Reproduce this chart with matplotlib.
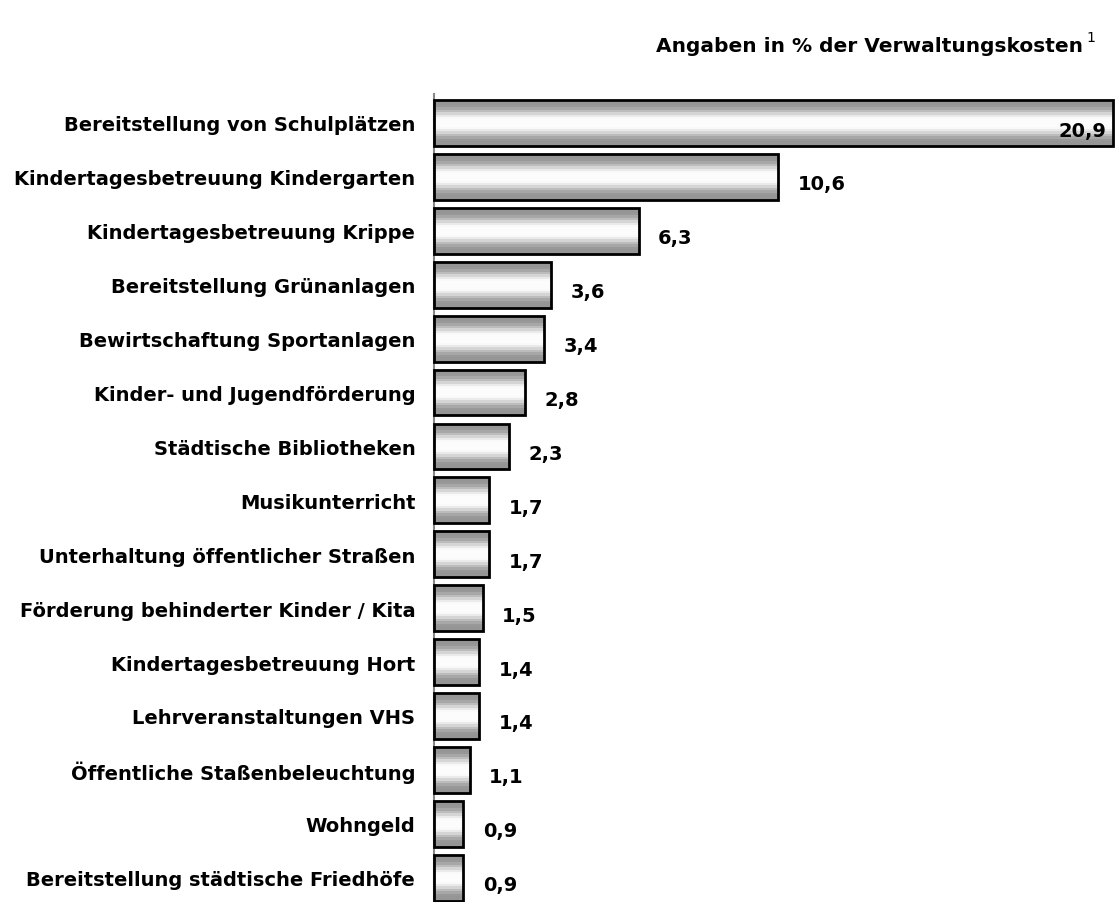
import numpy as np
import matplotlib
matplotlib.use("Agg")
import matplotlib.pyplot as plt
from matplotlib.patches import Rectangle

categories = [
    "Bereitstellung von Schulplätzen",
    "Kindertagesbetreuung Kindergarten",
    "Kindertagesbetreuung Krippe",
    "Bereitstellung Grünanlagen",
    "Bewirtschaftung Sportanlagen",
    "Kinder- und Jugendförderung",
    "Städtische Bibliotheken",
    "Musikunterricht",
    "Unterhaltung öffentlicher Straßen",
    "Förderung behinderter Kinder / Kita",
    "Kindertagesbetreuung Hort",
    "Lehrveranstaltungen VHS",
    "Öffentliche Staßenbeleuchtung",
    "Wohngeld",
    "Bereitstellung städtische Friedhöfe",
]
values = [20.9, 10.6, 6.3, 3.6, 3.4, 2.8, 2.3, 1.7, 1.7, 1.5, 1.4, 1.4, 1.1, 0.9, 0.9]
value_labels = ["20,9", "10,6", "6,3", "3,6", "3,4", "2,8", "2,3", "1,7", "1,7",
                "1,5", "1,4", "1,4", "1,1", "0,9", "0,9"]
title = "Angaben in % der Verwaltungskosten"
footnote_mark = "1"

plt.rcParams['font.family'] = ['DejaVu Sans']
W, H = 1115, 903
fig = plt.figure(figsize=(W / 100, H / 100), dpi=100)
ax_left = 434 / W
ax = fig.add_axes([ax_left, 0, 1 - ax_left - 1 / W, (H - 95) / H])

n = len(values)
ymin, ymax = -0.538, 14.452
xmax = 20.93

bar_h = 0.85
# banded gradient: gray at top/bottom edges, white in the middle
steps = 19
d = np.abs(np.linspace(-1, 1, steps))
s = np.clip((d - 0.15) / (0.85 - 0.15), 0, 1)
s = s * s * (3 - 2 * s)
grad = (0.985 - 0.40 * s).reshape(-1, 1)

for i, (v, lab) in enumerate(zip(values, value_labels)):
    y0 = i - bar_h / 2
    im = ax.imshow(grad, cmap='gray', vmin=0, vmax=1, aspect='auto',
                   extent=(0, v, i + bar_h / 2, y0), interpolation='nearest',
                   zorder=2)
    rect = Rectangle((0, y0), v, bar_h, facecolor='none', edgecolor='black',
                     linewidth=2.0, zorder=3, clip_on=False)
    ax.add_patch(rect)
    im.set_clip_path(rect)
    if v + 3.0 > xmax:
        ax.text(v - 0.22, i + 0.13, lab, ha='right', va='center',
                fontsize=14, fontweight='bold', zorder=4)
    else:
        ax.text(v + 0.6, i + 0.13, lab, ha='left', va='center',
                fontsize=14, fontweight='bold', zorder=4)

ax.set_xlim(0, xmax)
ax.set_ylim(ymax, ymin)
ax.set_yticks(range(n))
ax.set_yticklabels(categories, fontsize=14, fontweight='bold')
ax.tick_params(axis='y', length=0, pad=13.5)
ax.set_xticks([])
for sp in ['top', 'right', 'bottom']:
    ax.spines[sp].set_visible(False)
ax.spines['left'].set_color('#888888')
ax.spines['left'].set_linewidth(1.5)

fig.text(1083 / W, 1 - 46 / H, title, ha='right', va='center',
         fontsize=14.5, fontweight='bold')
fig.text(1086 / W, 1 - 38 / H, footnote_mark, ha='left', va='center',
         fontsize=10)

fig.savefig("out.png", dpi=100)
